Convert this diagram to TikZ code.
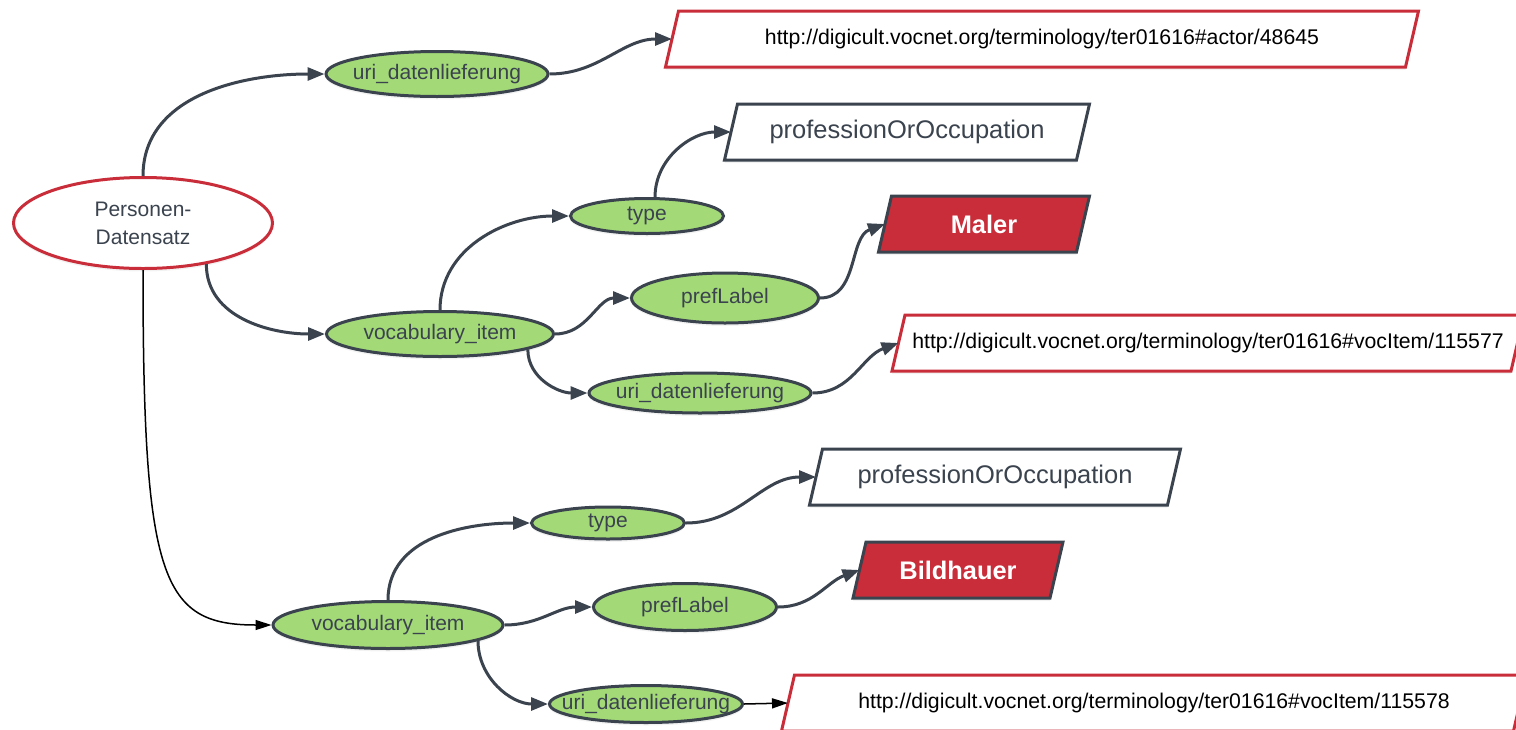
\documentclass[tikz,border=0pt]{standalone}
\usepackage{fontspec}
\setmainfont{Liberation Sans}
\usetikzlibrary{shapes.geometric,arrows.meta,backgrounds,shadows}

\definecolor{ink}{HTML}{3A434E}
\definecolor{leaf}{HTML}{A3D977}
\definecolor{signal}{HTML}{C92D39}

% zero-width label so the ellipse keeps its given size
\newcommand\ctext[1]{\makebox[0pt]{#1}}

\tikzset{
  lift/.style={drop shadow={shadow xshift=0pt, shadow yshift=-3pt, opacity=0.10}},
  root/.style={ellipse, draw=signal, fill=white, line width=3pt, text=ink,
    inner sep=0pt, align=center, font=\fontsize{21}{28}\selectfont, lift},
  prop/.style={ellipse, draw=ink, fill=leaf, line width=3pt, text=ink,
    inner sep=0pt, font=\fontsize{21}{25}\selectfont, lift},
  valbox/.style={rectangle, draw=none, inner sep=0pt, outer sep=0pt, minimum height=56pt},
  urltext/.style={text=black, font=\fontsize{21.25}{25}\selectfont},
  classtext/.style={text=ink, font=\fontsize{25.5}{30}\selectfont},
  labeltext/.style={text=white, font=\fontsize{25.4}{30}\selectfont\bfseries},
  link/.style={draw=ink, line width=3pt, -{Triangle[length=17pt,width=13pt]}},
  thinlink/.style={draw=black, line width=1.5pt, -{Triangle[length=16pt,width=10pt]}},
}

\begin{document}
\begin{tikzpicture}[x=1pt,y=1pt]
\useasboundingbox (0,0) rectangle (1516,-729);

% record and property nodes
\node[root, minimum width=259pt, minimum height=91pt] (pd) at (143,-223) {Personen-\\Datensatz};

\node[prop, minimum width=222pt, minimum height=45pt] (uA) at (437,-74)  {\ctext{uri\_datenlieferung}};
\node[prop, minimum width=153pt, minimum height=35pt] (tA) at (647,-216) {\ctext{type}};
\node[prop, minimum width=187pt, minimum height=50pt] (pA) at (725,-298) {\ctext{prefLabel}};
\node[prop, minimum width=227pt, minimum height=45pt] (vA) at (440,-334) {\ctext{vocabulary\_item}};
\node[prop, minimum width=222pt, minimum height=40pt] (uB) at (700,-393) {\ctext{uri\_datenlieferung}};

\node[prop, minimum width=153pt, minimum height=32pt] (tB) at (608,-523) {\ctext{type}};
\node[prop, minimum width=183pt, minimum height=47pt] (pB) at (685,-607) {\ctext{prefLabel}};
\node[prop, minimum width=230pt, minimum height=47pt] (vB) at (388,-625) {\ctext{vocabulary\_item}};
\node[prop, minimum width=193pt, minimum height=37pt] (uC) at (646,-704) {\ctext{uri\_datenlieferung}};

% value nodes (parallelograms drawn behind them)
\node[valbox, urltext, minimum width=740pt] (lA) at (1042,-39)
  {http://digicult.vocnet.org/terminology/ter01616\#actor/48645};
\node[valbox, classtext, minimum width=352pt] (oA) at (907,-132) {professionOrOccupation};
\node[valbox, labeltext, minimum width=198pt] (mA) at (984,-224) {Maler};
\node[valbox, urltext, minimum width=619pt] (lB) at (1208,-343)
  {http://digicult.vocnet.org/terminology/ter01616\#vocItem/115577};
\node[valbox, classtext, minimum width=358pt] (oB) at (995,-477) {professionOrOccupation};
\node[valbox, labeltext, minimum width=197pt] (mB) at (958,-570) {Bildhauer};
\node[valbox, urltext, minimum width=732pt] (lC) at (1154,-703)
  {http://digicult.vocnet.org/terminology/ter01616\#vocItem/115578};

\begin{scope}[on background layer]
  \foreach \n/\f/\d in {lA/white/signal, oA/white/ink, mA/signal/ink,
                        lB/white/signal, oB/white/ink, mB/signal/ink, lC/white/signal}
    \path[fill=\f, draw=\d, line width=3pt, lift]
      ([xshift=6.5pt]\n.north west) -- ([xshift=6.5pt]\n.north east)
      -- ([xshift=-6.5pt]\n.south east) -- ([xshift=-6.5pt]\n.south west) -- cycle;
\end{scope}

% connectors
\draw[link] (pd.north) to[out=90,in=180] (uA.west);
\draw[link] (pd.-33) to[out=-90,in=180] (vA.west);
\draw[thinlink] (pd.south) .. controls +(0,-310) and +(-110,0) .. (vB.west);
\draw[link] (uA.east) to[out=0,in=180] (lA.west);

\draw[link] (vA.north) to[out=90,in=180] (tA.west);
\draw[link] (tA.67) to[out=90,in=180] (oA.west);
\draw[link] (vA.east) to[out=0,in=180] (pA.west);
\draw[link] (vA.-10) to[out=-90,in=180] (uB.west);
\draw[link] (pA.east) to[out=0,in=200] (mA.west);
\draw[link] (uB.east) to[out=0,in=200] (lB.west);

\draw[link] (vB.north) to[out=90,in=180] (tB.west);
\draw[link] (tB.east) to[out=0,in=180] (oB.west);
\draw[link] (vB.east) to[out=0,in=180] (pB.west);
\draw[link] (pB.east) to[out=0,in=200] (mB.west);
\draw[link] (vB.-10) to[out=-90,in=180] (uC.west);
\draw[thinlink] (uC.east) -- (lC.west);
\end{tikzpicture}
\end{document}
